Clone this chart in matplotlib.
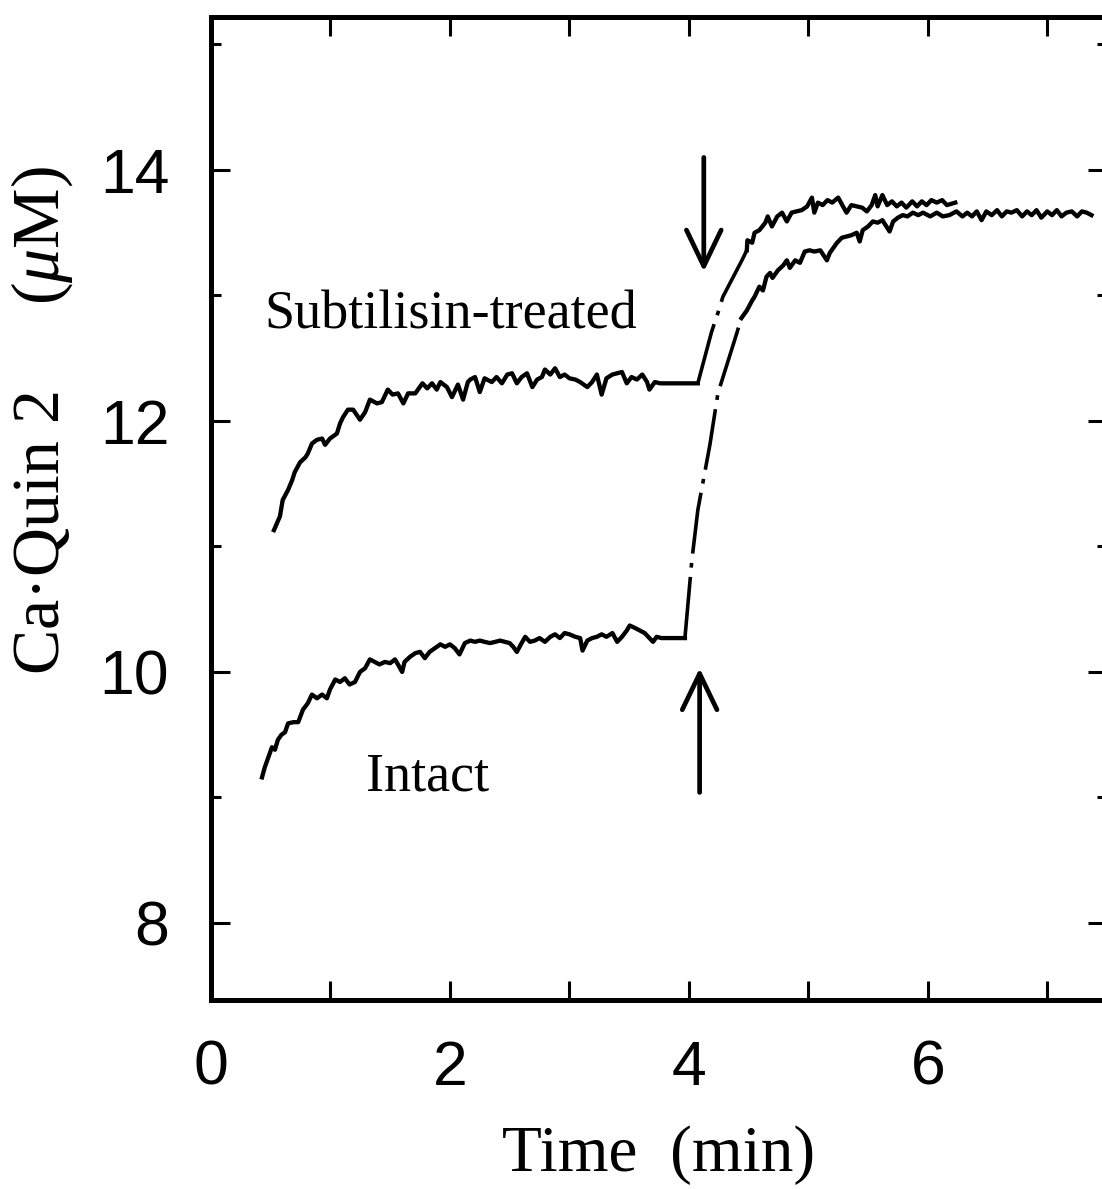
import matplotlib
matplotlib.use("Agg")
import matplotlib.pyplot as plt

plt.rcParams['mathtext.fontset'] = 'custom'
plt.rcParams['mathtext.rm'] = 'Liberation Serif'
plt.rcParams['mathtext.it'] = 'Liberation Serif:italic'

# ---------------- data ----------------
# Subtilisin-treated, first phase (noisy) + flat segment
sub1_t = [0.527, 0.577, 0.60, 0.645, 0.68, 0.70, 0.745, 0.79, 0.81, 0.845, 0.887, 0.93, 0.955,
          0.996, 1.054, 1.08, 1.105, 1.146, 1.19, 1.247, 1.29, 1.33, 1.39, 1.43, 1.48, 1.52,
          1.565, 1.61, 1.65, 1.71, 1.77, 1.81, 1.85, 1.89, 1.92, 1.975, 2.017, 2.067, 2.11,
          2.15, 2.17, 2.21, 2.25, 2.29, 2.35, 2.39, 2.435, 2.48, 2.52, 2.56, 2.60, 2.645,
          2.69, 2.73, 2.77, 2.795, 2.84, 2.88, 2.92, 2.96, 3.00, 3.05, 3.09, 3.15, 3.19,
          3.23, 3.27, 3.31, 3.36, 3.40, 3.44, 3.48, 3.52, 3.565, 3.61, 3.65, 3.67, 3.715,
          3.76, 4.075]
sub1_v = [11.13, 11.24, 11.37, 11.45, 11.53, 11.59, 11.67, 11.71, 11.74, 11.82, 11.85, 11.86, 11.81,
          11.86, 11.90, 11.98, 12.03, 12.09, 12.09, 12.01, 12.07, 12.17, 12.14, 12.15, 12.25, 12.21,
          12.22, 12.14, 12.22, 12.22, 12.30, 12.26, 12.30, 12.25, 12.31, 12.27, 12.19, 12.29, 12.17,
          12.31, 12.33, 12.35, 12.23, 12.34, 12.31, 12.35, 12.30, 12.37, 12.38, 12.30, 12.35, 12.38,
          12.27, 12.33, 12.35, 12.41, 12.37, 12.42, 12.35, 12.37, 12.34, 12.33, 12.31, 12.27, 12.31,
          12.37, 12.21, 12.34, 12.37, 12.38, 12.39, 12.30, 12.35, 12.33, 12.37, 12.31, 12.25, 12.31,
          12.30, 12.30]
# Subtilisin-treated, transition (dash-dot)
sub_tr_t = [4.075, 4.19, 4.243, 4.285, 4.444, 4.485]
sub_tr_v = [12.30, 12.71, 12.86, 12.99, 13.28, 13.36]
# Subtilisin-treated, second phase
sub2_t = [4.485, 4.49, 4.53, 4.55, 4.59, 4.64, 4.66, 4.695, 4.74, 4.78, 4.82, 4.86, 4.90, 4.945,
          4.99, 5.03, 5.05, 5.08, 5.12, 5.16, 5.20, 5.25, 5.29, 5.32, 5.36, 5.405, 5.45, 5.49,
          5.53, 5.56, 5.58, 5.62, 5.66, 5.70, 5.74, 5.78, 5.82, 5.87, 5.91, 5.95, 5.99, 6.03,
          6.075, 6.12, 6.16, 6.23]
sub2_v = [13.36, 13.44, 13.42, 13.50, 13.52, 13.58, 13.63, 13.55, 13.63, 13.66, 13.59, 13.66, 13.67, 13.68,
          13.71, 13.78, 13.66, 13.74, 13.72, 13.76, 13.74, 13.78, 13.71, 13.66, 13.72, 13.71, 13.70, 13.67,
          13.72, 13.80, 13.71, 13.80, 13.72, 13.75, 13.71, 13.74, 13.70, 13.75, 13.71, 13.75, 13.72, 13.76,
          13.74, 13.76, 13.72, 13.74]

# Intact, first phase (noisy) + flat segment
int1_t = [0.427, 0.45, 0.48, 0.51, 0.535, 0.56, 0.59, 0.62, 0.645, 0.69, 0.73, 0.77, 0.81, 0.845,
          0.887, 0.93, 0.97, 0.996, 1.04, 1.08, 1.12, 1.16, 1.205, 1.247, 1.29, 1.33, 1.37, 1.41,
          1.456, 1.50, 1.54, 1.565, 1.60, 1.62, 1.665, 1.71, 1.75, 1.79, 1.83, 1.875, 1.92, 1.96,
          2.00, 2.04, 2.08, 2.125, 2.17, 2.21, 2.25, 2.29, 2.335, 2.38, 2.42, 2.46, 2.50, 2.53,
          2.56, 2.60, 2.63, 2.67, 2.71, 2.75, 2.795, 2.84, 2.88, 2.92, 2.96, 3.00, 3.05, 3.09,
          3.11, 3.15, 3.19, 3.23, 3.27, 3.31, 3.36, 3.40, 3.44, 3.48, 3.505, 3.55, 3.59, 3.63,
          3.67, 3.70, 3.73, 3.77, 3.967]
int1_v = [9.16, 9.24, 9.32, 9.40, 9.38, 9.46, 9.50, 9.52, 9.59, 9.60, 9.60, 9.70, 9.75, 9.82,
          9.79, 9.82, 9.79, 9.86, 9.94, 9.92, 9.95, 9.90, 9.92, 10.00, 10.03, 10.10, 10.08, 10.06,
          10.08, 10.07, 10.10, 10.06, 10.00, 10.08, 10.12, 10.15, 10.16, 10.11, 10.16, 10.19, 10.22, 10.20,
          10.22, 10.19, 10.14, 10.23, 10.25, 10.24, 10.25, 10.24, 10.23, 10.24, 10.25, 10.24, 10.23, 10.20,
          10.16, 10.23, 10.28, 10.24, 10.25, 10.27, 10.24, 10.28, 10.30, 10.27, 10.31, 10.30, 10.28, 10.27,
          10.17, 10.25, 10.27, 10.28, 10.30, 10.28, 10.31, 10.24, 10.28, 10.33, 10.37, 10.35, 10.33, 10.31,
          10.27, 10.24, 10.28, 10.27, 10.27]
# Intact, transition (dash-dot)
int_tr_t = [3.967, 4.025, 4.075, 4.176, 4.243, 4.385, 4.44]
int_tr_v = [10.27, 10.89, 11.29, 11.81, 12.22, 12.65, 12.82]
# Intact, second phase
int2_t = [4.44, 4.485, 4.53, 4.55, 4.59, 4.62, 4.65, 4.68, 4.70, 4.745, 4.79, 4.82, 4.845, 4.89,
          4.93, 4.97, 5.01, 5.05, 5.10, 5.155, 5.18, 5.24, 5.28, 5.32, 5.36, 5.405, 5.43, 5.455,
          5.50, 5.54, 5.58, 5.62, 5.68, 5.71, 5.75, 5.79, 5.83, 5.875, 5.92, 5.96, 6.02, 6.075,
          6.125, 6.18, 6.24, 6.29, 6.33, 6.37, 6.41, 6.45, 6.49, 6.535, 6.58, 6.62, 6.66, 6.70,
          6.745, 6.79, 6.83, 6.87, 6.91, 6.95, 7.00, 7.04, 7.08, 7.12, 7.16, 7.205, 7.25, 7.29,
          7.33, 7.37]
int2_v = [12.82, 12.88, 12.96, 12.99, 13.07, 13.04, 13.15, 13.18, 13.14, 13.20, 13.24, 13.28, 13.22, 13.28,
          13.26, 13.35, 13.36, 13.35, 13.36, 13.28, 13.34, 13.42, 13.46, 13.47, 13.48, 13.50, 13.43, 13.52,
          13.55, 13.59, 13.58, 13.60, 13.51, 13.59, 13.62, 13.64, 13.63, 13.66, 13.64, 13.66, 13.63, 13.66,
          13.63, 13.64, 13.67, 13.63, 13.66, 13.63, 13.67, 13.60, 13.67, 13.64, 13.68, 13.63, 13.67, 13.66,
          13.68, 13.63, 13.67, 13.64, 13.68, 13.62, 13.67, 13.64, 13.68, 13.63, 13.66, 13.67, 13.63, 13.67,
          13.66, 13.64]

# arrows (x, tail y, head y)
arrow_down = (4.125, 14.10, 13.19)
arrow_up = (4.09, 9.04, 10.03)

labels = [("Subtilisin-treated", 2.008, 12.84), ("Intact", 1.81, 9.16)]

xticks_major = [0, 2, 4, 6]
xticks_minor = [1, 3, 5, 7]
yticks_major = [8, 10, 12, 14]
yticks_minor = [9, 11, 13, 15]

# ---------------- figure ----------------
fig = plt.figure(figsize=(11.02, 11.89), dpi=100)
ax = fig.add_axes([211/1102, 189/1189, 896/1102, 983/1189])
ax.set_xlim(0, 7.5)
ax.set_ylim(7.386, 15.219)

lw = 3.1
dd = (17, 2.6, 1.3, 2.6)
ax.plot(sub1_t, sub1_v, color='black', lw=lw, solid_joinstyle='round')
ax.plot(sub_tr_t, sub_tr_v, color='black', lw=2.6, dashes=dd)
ax.plot(sub2_t, sub2_v, color='black', lw=lw, solid_joinstyle='round')
ax.plot(int1_t, int1_v, color='black', lw=lw, solid_joinstyle='round')
ax.plot(int_tr_t, int_tr_v, color='black', lw=2.6, dashes=dd)
ax.plot(int2_t, int2_v, color='black', lw=lw, solid_joinstyle='round')

for (x, y0, y1) in (arrow_down, arrow_up):
    ax.annotate('', xy=(x, y1), xytext=(x, y0),
                arrowprops=dict(arrowstyle='->,head_length=2.6,head_width=1.25',
                                mutation_scale=10, lw=3.4, color='black',
                                shrinkA=0, shrinkB=0))

for txt, x, y in labels:
    ax.text(x, y, txt, fontsize=39, family='Liberation Serif', ha='center', va='center')

ax.set_xticks(xticks_major)
ax.set_xticks(xticks_minor, minor=True)
ax.set_yticks(yticks_major)
ax.set_yticks(yticks_minor, minor=True)
ax.set_xticklabels([str(v) for v in xticks_major])
ax.set_yticklabels([str(v) for v in yticks_major])

ax.tick_params(which='both', direction='in', top=True, right=True, width=2.2, color='black')
ax.tick_params(axis='x', which='both', length=14, pad=28)
ax.tick_params(axis='y', which='major', length=14, pad=30)
ax.tick_params(axis='y', which='minor', length=7)
for lab in ax.get_xticklabels() + ax.get_yticklabels():
    lab.set_fontfamily('Liberation Sans')
    lab.set_fontsize(45)

for sp in ax.spines.values():
    sp.set_linewidth(3.6)

ax.set_xlabel('Time  (min)', fontsize=47, family='Liberation Serif')
ax.xaxis.set_label_coords(0.5, -0.158)
ax.xaxis.label.set_va('center')
ax.set_ylabel('Ca\u00b7Quin 2     ($\\mathit{\\mu}$M)', fontsize=49, family='Liberation Serif')
ax.yaxis.set_label_coords(-0.189, 0.59)
ax.yaxis.label.set_va('center')

fig.savefig('out.png', dpi=100)
